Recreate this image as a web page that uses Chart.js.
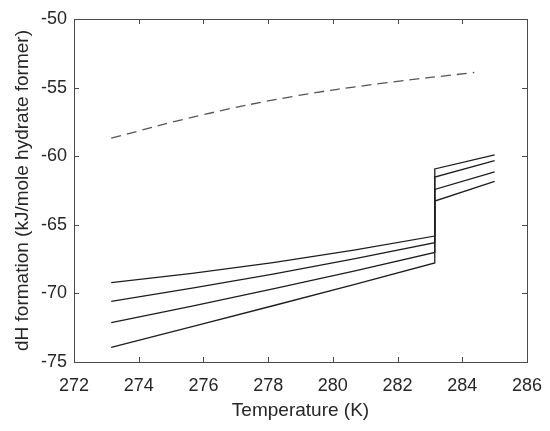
<!DOCTYPE html>
<html>
<head>
<meta charset="utf-8">
<script src="https://cdn.jsdelivr.net/npm/chart.js@4/dist/chart.umd.min.js"></script>
<style>
  html, body { margin: 0; padding: 0; background: #fff; }
  #wrap { width: 550px; height: 431px; position: relative; }
</style>
</head>
<body>
<div id="wrap"><canvas id="c" width="550" height="431"></canvas></div>
<script>
// Temperatures (K)
const tLow = [273.15, 275.65, 278.15, 280.65, 283.15];
const tHigh = [283.15, 285.0];
const tDash = [273.15, 275.95, 278.75, 281.55, 284.37];

// dH formation (kJ/mole hydrate former), four solid curves: low-T branch then high-T branch
const low1 = [-69.22, -68.54, -67.75, -66.84, -65.82];
const high1 = [-60.93, -59.91];
const low2 = [-70.58, -69.62, -68.59, -67.48, -66.30];
const high2 = [-61.52, -60.33];
const low3 = [-72.13, -70.93, -69.67, -68.37, -67.01];
const high3 = [-62.42, -61.15];
const low4 = [-73.93, -72.43, -70.90, -69.36, -67.78];
const high4 = [-63.27, -61.83];

// dashed curve
const dashVals = [-58.68, -57.0, -55.65, -54.68, -53.9];

// tick values
const xTicks = [272, 274, 276, 278, 280, 282, 284, 286];
const yTicks = [-75, -70, -65, -60, -55, -50];

function pts(ts, vs) { return ts.map((t, i) => ({ x: t, y: vs[i] })); }
function solid(lo, hi) {
  return {
    data: pts(tLow, lo).concat(pts(tHigh, hi)),
    borderColor: '#1e1e1e', borderWidth: 1.3, pointRadius: 0, tension: 0, fill: false
  };
}

const boxPlugin = {
  id: 'box',
  afterDraw(chart) {
    const ctx = chart.ctx, a = chart.chartArea;
    const xs = chart.scales.x, ys = chart.scales.y;
    ctx.save();
    ctx.strokeStyle = '#4a4a4a';
    ctx.lineWidth = 1;
    ctx.strokeRect(Math.round(a.left) + 0.5, Math.round(a.top) + 0.5,
      Math.round(a.right - a.left), Math.round(a.bottom - a.top));
    const L = 5;
    ctx.beginPath();
    xTicks.forEach(v => {
      const p = Math.round(xs.getPixelForValue(v)) + 0.5;
      ctx.moveTo(p, a.bottom); ctx.lineTo(p, a.bottom - L);
      ctx.moveTo(p, a.top); ctx.lineTo(p, a.top + L);
    });
    yTicks.forEach(v => {
      const p = Math.round(ys.getPixelForValue(v)) + 0.5;
      ctx.moveTo(a.left, p); ctx.lineTo(a.left + L, p);
      ctx.moveTo(a.right, p); ctx.lineTo(a.right - L, p);
    });
    ctx.stroke();
    ctx.restore();
  }
};

const tickFont = { family: '"Liberation Sans", Arial, Helvetica, sans-serif', size: 18 };
const titleFont = { family: '"Liberation Sans", Arial, Helvetica, sans-serif', size: 19 };

new Chart(document.getElementById('c'), {
  type: 'line',
  data: {
    datasets: [
      {
        data: pts(tDash, dashVals),
        borderColor: '#555555', borderWidth: 1.3, borderDash: [10, 6],
        pointRadius: 0, tension: 0.4, fill: false
      },
      solid(low1, high1),
      solid(low2, high2),
      solid(low3, high3),
      solid(low4, high4)
    ]
  },
  options: {
    responsive: false,
    animation: false,
    devicePixelRatio: 1,
    layout: { padding: { top: 19, right: 23, left: 0, bottom: 0 } },
    plugins: { legend: { display: false }, tooltip: { enabled: false } },
    scales: {
      x: {
        type: 'linear', min: 272, max: 286,
        afterBuildTicks(s) { s.ticks = xTicks.map(v => ({ value: v })); },
        afterFit(s) { s.height = 69; s.paddingLeft = 0; s.paddingRight = 0; },
        grid: { display: false, drawTicks: false },
        border: { display: false },
        ticks: { color: '#262626', font: tickFont, padding: 13, maxRotation: 0 },
        title: { display: true, text: 'Temperature (K)', color: '#262626', font: titleFont, padding: { top: 0, bottom: 9 } }
      },
      y: {
        type: 'linear', min: -75, max: -50,
        afterBuildTicks(s) { s.ticks = yTicks.map(v => ({ value: v })); },
        afterFit(s) { s.width = 74; s.paddingTop = 0; s.paddingBottom = 0; },
        grid: { display: false, drawTicks: false },
        border: { display: false },
        ticks: { color: '#262626', font: tickFont, padding: 7 },
        title: { display: true, text: 'dH formation (kJ/mole hydrate former)', color: '#262626', font: titleFont, padding: { top: 11, bottom: 0 } }
      }
    }
  },
  plugins: [boxPlugin]
});
</script>
</body>
</html>
